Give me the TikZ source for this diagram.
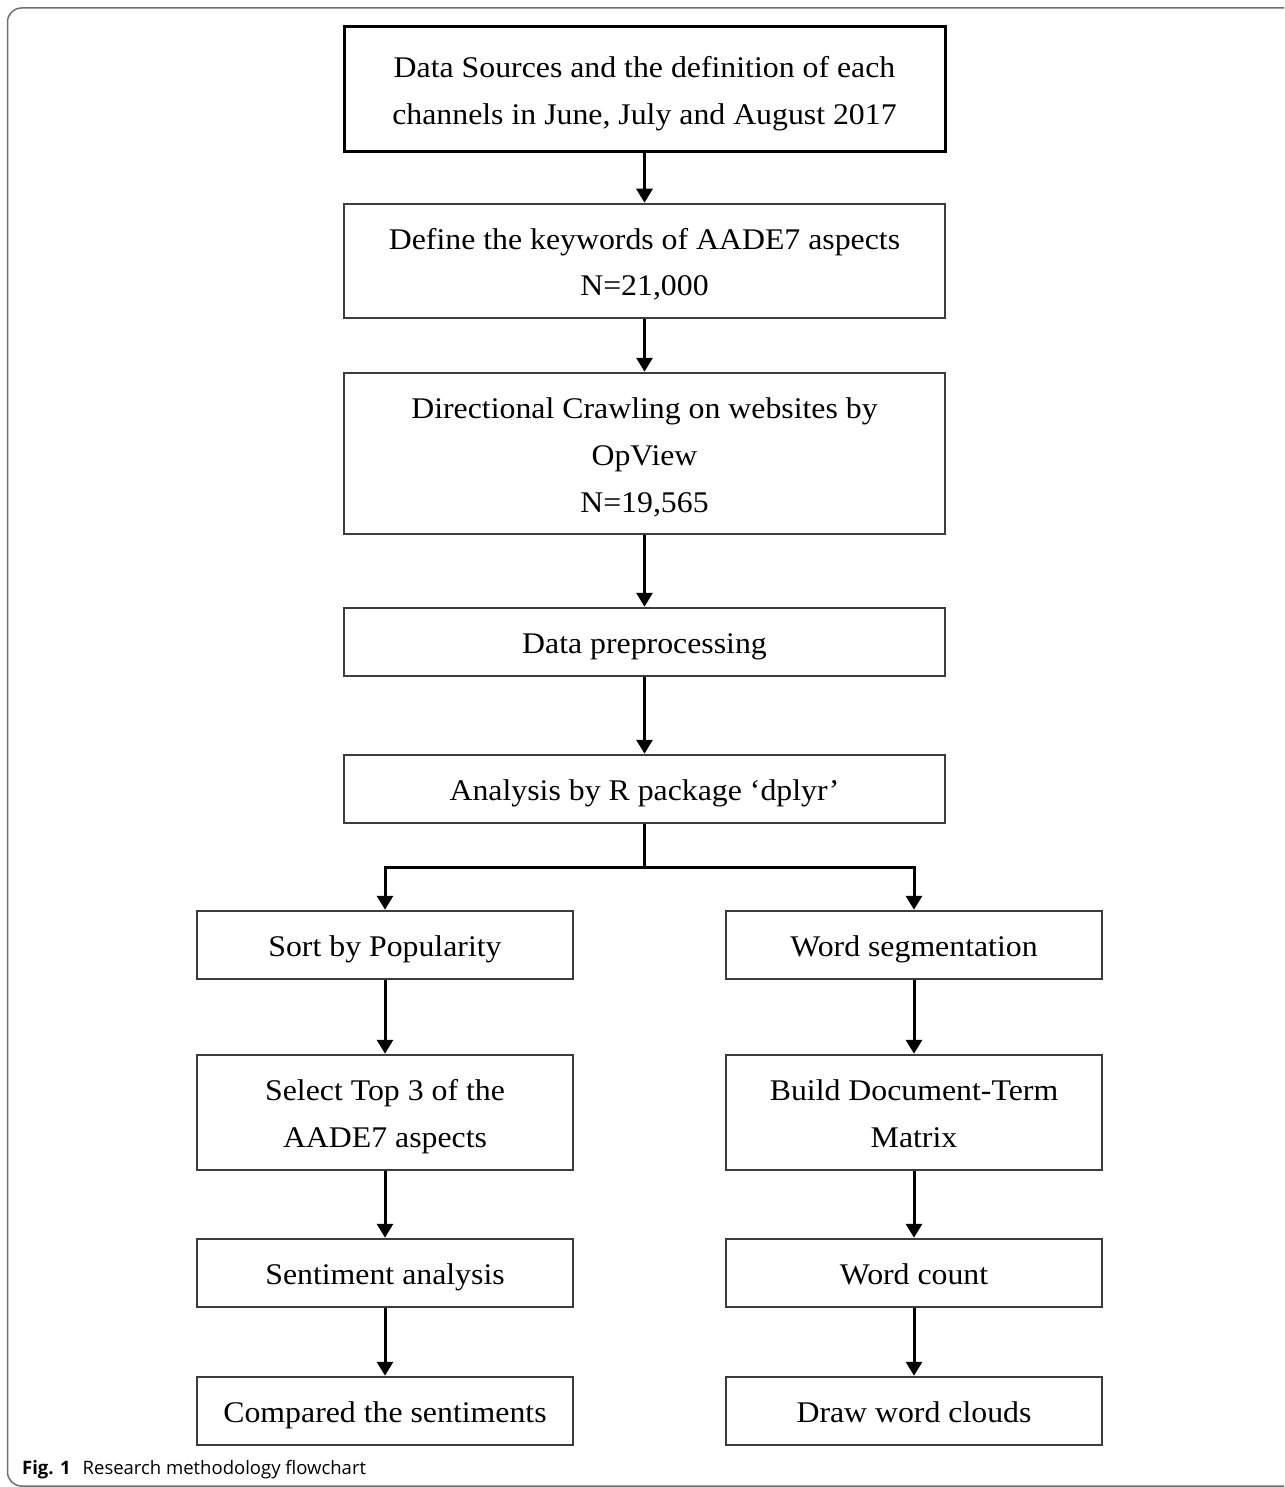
\documentclass[tikz,border=0pt]{standalone}
\usepackage{fontspec}
\setmainfont[FakeStretch=1.06]{Liberation Serif}
\newfontfamily\capfont{Open Sans}
\usetikzlibrary{arrows.meta}
\definecolor{boxgray}{HTML}{3C3C3C}
\definecolor{framegray}{HTML}{707070}
\newcommand\boxstrut{\rule[-7pt]{0pt}{37pt}}
\tikzset{
  box/.style={draw=boxgray, line width=2.5pt, align=center, inner sep=0pt,
    font=\fontsize{30}{47}\selectfont, text=black,
    execute at end node=\boxstrut},
  topbox/.style={box, draw=black, line width=3pt},
  conn/.style={line width=3pt, -{Triangle[width=16pt,length=14pt]}},
  plain/.style={line width=3pt}
}
\begin{document}
\begin{tikzpicture}[x=1pt,y=-1pt]
\useasboundingbox (0,0) rectangle (1284,1487);
\begin{scope}
\clip (0,0) rectangle (1284,1487);
\draw[framegray, line width=1.5pt, rounded corners=14pt] (7.5,8) rectangle (1310,1486);
\end{scope}
% main column
\node[topbox, minimum width=601pt, minimum height=125pt] (n1) at (644.5,89.5)
  {\boxstrut Data Sources and the definition of each\\channels in June, July and August 2017};
\node[box, minimum width=601pt, minimum height=114pt] (n2) at (644.5,261)
  {\boxstrut Define the keywords of AADE7 aspects\\N=21,000};
\node[box, minimum width=601pt, minimum height=161pt] (n3) at (644.5,453.5)
  {\boxstrut Directional Crawling on websites by\\OpView\\N=19,565};
\node[box, minimum width=601pt, minimum height=68pt] (n4) at (644.5,642)
  {Data preprocessing};
\node[box, minimum width=601pt, minimum height=68pt] (n5) at (644.5,789)
  {Analysis by R package `dplyr'};
% left column
\node[box, minimum width=376pt, minimum height=68pt] (l1) at (385,945)
  {Sort by Popularity};
\node[box, minimum width=376pt, minimum height=115pt] (l2) at (385,1112.5)
  {\boxstrut Select Top 3 of the\\AADE7 aspects};
\node[box, minimum width=376pt, minimum height=68pt] (l3) at (385,1273)
  {Sentiment analysis};
\node[box, minimum width=376pt, minimum height=68pt] (l4) at (385,1411)
  {Compared the sentiments};
% right column
\node[box, minimum width=376pt, minimum height=68pt] (r1) at (914,945)
  {Word segmentation};
\node[box, minimum width=376pt, minimum height=115pt] (r2) at (914,1112.5)
  {\boxstrut Build Document-Term\\Matrix};
\node[box, minimum width=376pt, minimum height=68pt] (r3) at (914,1273)
  {Word count};
\node[box, minimum width=376pt, minimum height=68pt] (r4) at (914,1411)
  {Draw word clouds};
% connectors
\draw[conn] (n1) -- (n2);
\draw[conn] (n2) -- (n3);
\draw[conn] (n3) -- (n4);
\draw[conn] (n4) -- (n5);
\coordinate (split) at (644.5,867);
\draw[plain] (n5.south) -- (split);
\draw[conn] ([xshift=1.5pt]split) -| (l1.north);
\draw[conn] ([xshift=-1.5pt]split) -| (r1.north);
\draw[conn] (l1) -- (l2);
\draw[conn] (l2) -- (l3);
\draw[conn] (l3) -- (l4);
\draw[conn] (r1) -- (r2);
\draw[conn] (r2) -- (r3);
\draw[conn] (r3) -- (r4);
% caption
\node[anchor=base west, inner sep=0pt, font=\capfont\fontsize{18.5}{20}\selectfont] (cap) at (22,1474)
  {\textbf{Fig. 1}\hspace{12pt}Research methodology flowchart};
\end{tikzpicture}
\end{document}
